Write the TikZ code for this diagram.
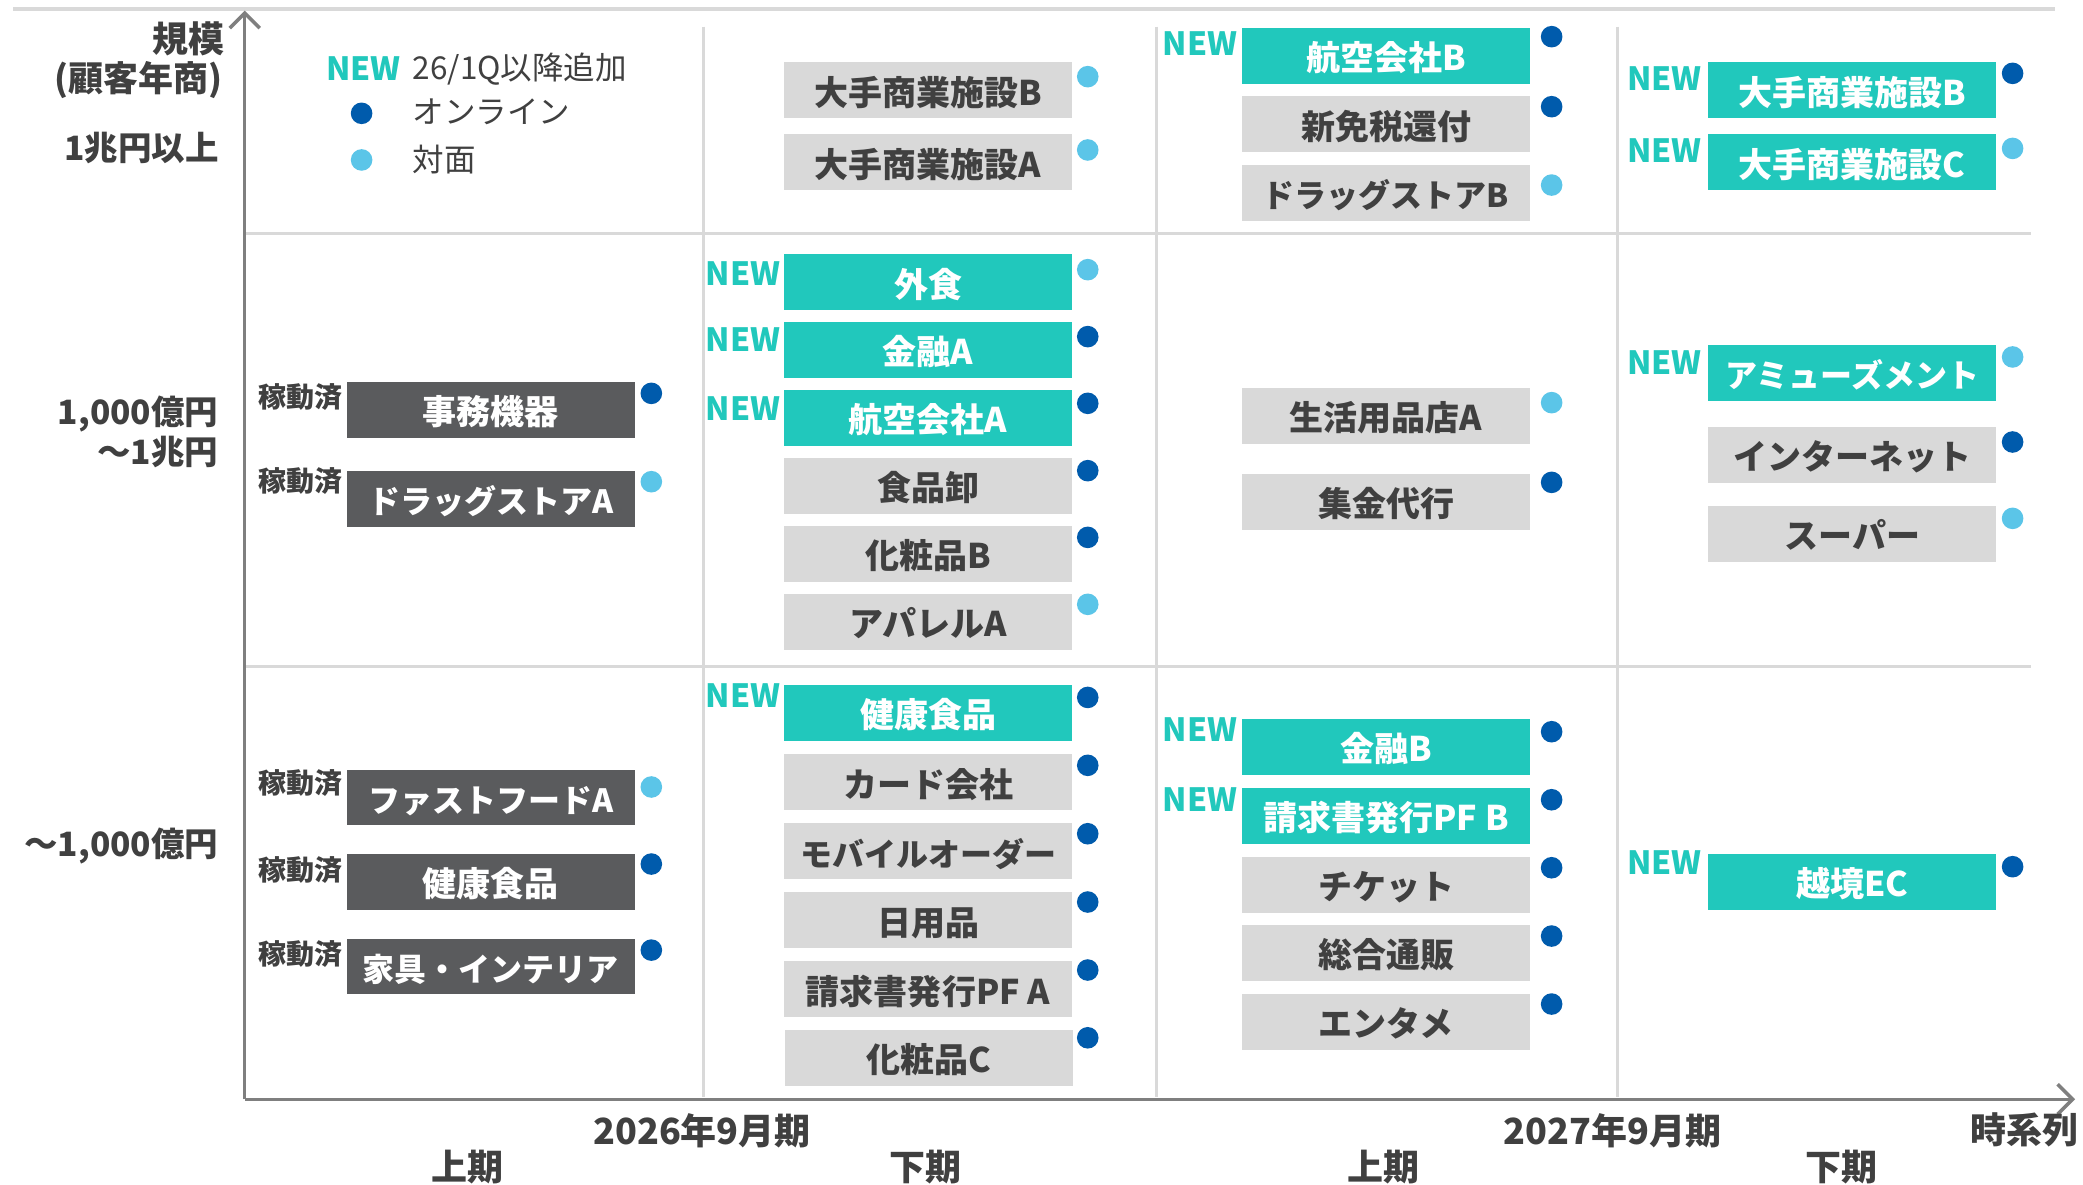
\documentclass[tikz,border=0pt]{standalone}
\usepackage{fontspec}
\setmainfont{Noto Sans CJK JP}
\usetikzlibrary{arrows.meta}
\definecolor{teal1}{HTML}{21C8BC}
\definecolor{boxgray}{HTML}{D9D9D9}
\definecolor{boxdark}{HTML}{5A5B5D}
\definecolor{txtgray}{HTML}{404040}
\definecolor{dotdark}{HTML}{005BAC}
\definecolor{dotlight}{HTML}{5BC5E8}
\definecolor{gridgray}{HTML}{D9D9D9}
\definecolor{axisgray}{HTML}{7F7F7F}
\begin{document}
\begin{tikzpicture}[x=1.3284pt,y=-1.3284pt,
  every node/.style={inner sep=0pt},
  cbox/.style={minimum width=288pt,minimum height=55.6pt,inner sep=0pt,font=\bfseries\fontsize{34}{40}\selectfont,text height=30pt,text depth=0pt},
  narrow/.style={font=\bfseries\fontsize{32}{40}\selectfont},
  gbox/.style={cbox,fill=boxgray,text=txtgray},
  tbox/.style={cbox,fill=teal1,text=white},
  dbox/.style={cbox,fill=boxdark,text=white},
  newlbl/.style={anchor=east,font=\bfseries\fontsize{32}{36}\selectfont,text=teal1,text height=23.5pt,text depth=0pt},
  ondot/.style={circle,fill=dotdark,minimum size=21.6pt,inner sep=0pt},
  offdot/.style={circle,fill=dotlight,minimum size=21.6pt,inner sep=0pt},
  donelbl/.style={font=\bfseries\fontsize{28}{32}\selectfont,text=txtgray,text height=22pt,text depth=2pt},
  ylbl/.style={anchor=east,font=\bfseries\fontsize{33.5}{40}\selectfont,text=txtgray,text height=28pt,text depth=3pt},
  xlbl/.style={font=\bfseries\fontsize{36}{40}\selectfont,text=txtgray,text height=29pt,text depth=3pt},
  leg/.style={anchor=west,font=\fontsize{31.5}{36}\selectfont,text=txtgray,text height=24pt,text depth=3pt},
  gridline/.style={draw=gridgray,line width=3pt},
  axisline/.style={draw=axisgray,line width=3.5pt,-{Straight Barb[length=15pt,width=30pt,line width=3.5pt]}},
]
\useasboundingbox[fill=white] (0,0) rectangle (1568,892);

% frame / grid
\draw[draw=gridgray,line width=4pt] (10,7) -- (1547,7);
\draw[gridline] (184.2,175.4) -- (1529,175.4);
\draw[gridline] (184.2,501.4) -- (1529,501.4);
\draw[gridline] (529.3,20) -- (529.3,826);
\draw[gridline] (870.7,20) -- (870.7,826);
\draw[gridline] (1217.5,20) -- (1217.5,826);

% axes
\coordinate (O) at (184.2,827.5);
\coordinate (ytip) at (184.2,8);
\coordinate (xtip) at (1562,827.5);
\draw[axisline] (O) -- (ytip);
\draw[axisline] (O) -- (xtip);

% y labels
\node[ylbl,font=\bfseries\fontsize{36}{40}\selectfont] (yl1) at (169,30.1) {規模};
\node[ylbl,font=\bfseries\fontsize{35}{40}\selectfont] (yl2) at (168,59.6) {(顧客年商)};
\node[ylbl] (yl3) at (165,111.7) {1兆円以上};
\node[ylbl] (yl4) at (164.5,309.8) {1,000億円};
\node[ylbl] (yl5) at (164.5,340.6) {～1兆円};
\node[ylbl] (yl6) at (164.5,635.4) {～1,000億円};

% x labels
\node[xlbl] (xl1) at (352,879) {上期};
\node[xlbl] (xl2) at (528.5,852) {2026年9月期};
\node[xlbl] (xl3) at (697,879) {下期};
\node[xlbl] (xl4) at (1041.6,879) {上期};
\node[xlbl] (xl5) at (1213.9,852) {2027年9月期};
\node[xlbl] (xl6) at (1386,879) {下期};
\node[xlbl] (xl7) at (1524,851) {時系列};

% legend
\node[newlbl,anchor=west] (lgnew) at (245.3,51.5) {NEW};
\node[leg] (lgnewt) at (310.5,52) {26/1Q以降追加};
\node[ondot] (lgon) at (272.2,85.3) {};
\node[leg] (lgont) at (310.5,85.3) {オンライン};
\node[offdot] (lgoff) at (272.2,120.4) {};
\node[leg] (lgofft) at (310.5,121.5) {対面};

% column 1
\node[dbox] (c1a) at (369.3,308.5) {事務機器};
\node[dbox,narrow] (c1b) at (369.3,375.5) {ドラッグストアA};
\node[dbox,narrow] (c1c) at (369.3,600.3) {ファストフードA};
\node[dbox] (c1d) at (369.3,663.8) {健康食品};
\node[dbox,narrow] (c1e) at (369.3,727.5) {家具・インテリア};
\node[donelbl] (k1a) at (226.3,299.4) {稼動済};
\node[donelbl] (k1b) at (226.3,362.6) {稼動済};
\node[donelbl] (k1c) at (226.3,590) {稼動済};
\node[donelbl] (k1d) at (226.3,655) {稼動済};
\node[donelbl] (k1e) at (226.3,718.4) {稼動済};
\node[ondot] (d1a) at (490.3,296.1) {};
\node[offdot] (d1b) at (490.3,362.6) {};
\node[offdot] (d1c) at (490.3,592.4) {};
\node[ondot] (d1d) at (490.3,650.4) {};
\node[ondot] (d1e) at (490.3,715.2) {};

% column 2
\node[gbox] (c2a) at (698.6,67.8) {大手商業施設B};
\node[gbox] (c2b) at (698.6,122) {大手商業施設A};
\node[tbox] (c2c) at (698.6,212.3) {外食};
\node[tbox] (c2d) at (698.6,263.4) {金融A};
\node[tbox] (c2e) at (698.6,314.5) {航空会社A};
\node[gbox] (c2f) at (698.6,365.8) {食品卸};
\node[gbox] (c2g) at (698.6,417) {化粧品B};
\node[gbox] (c2h) at (698.6,468) {アパレルA};
\node[tbox] (c2i) at (698.6,536.7) {健康食品};
\node[gbox] (c2j) at (698.6,588.7) {カード会社};
\node[gbox,narrow] (c2k) at (698.6,640.7) {モバイルオーダー};
\node[gbox] (c2l) at (698.6,692.6) {日用品};
\node[gbox] (c2m) at (698.6,744.6) {請求書発行PF A};
\node[gbox] (c2n) at (699.5,796.4) {化粧品C};
\node[newlbl] (n2c) at (587.5,205.8) {NEW};
\node[newlbl] (n2d) at (587.5,256) {NEW};
\node[newlbl] (n2e) at (587.5,308) {NEW};
\node[newlbl] (n2i) at (587.5,523.8) {NEW};
\node[offdot] (d2a) at (818.8,57.7) {};
\node[offdot] (d2b) at (818.8,112.9) {};
\node[offdot] (d2c) at (818.8,203) {};
\node[ondot] (d2d) at (818.8,253.4) {};
\node[ondot] (d2e) at (818.8,303.6) {};
\node[ondot] (d2f) at (818.8,354.3) {};
\node[ondot] (d2g) at (818.8,404.5) {};
\node[offdot] (d2h) at (818.8,454.9) {};
\node[ondot] (d2i) at (818.8,525) {};
\node[ondot] (d2j) at (818.8,576.1) {};
\node[ondot] (d2k) at (818.8,627.6) {};
\node[ondot] (d2l) at (818.8,679) {};
\node[ondot] (d2m) at (818.8,730.2) {};
\node[ondot] (d2n) at (818.8,781.2) {};

% column 3
\node[tbox] (c3a) at (1043.4,42) {航空会社B};
\node[gbox] (c3b) at (1043.4,93.5) {新免税還付};
\node[gbox,narrow] (c3c) at (1043.4,145.2) {ドラッグストアB};
\node[gbox] (c3d) at (1043.4,313) {生活用品店A};
\node[gbox] (c3e) at (1043.4,377.8) {集金代行};
\node[tbox] (c3f) at (1043.4,562.3) {金融B};
\node[tbox] (c3g) at (1043.4,614.2) {請求書発行PF B};
\node[gbox] (c3h) at (1043.4,666) {チケット};
\node[gbox] (c3i) at (1043.4,717.3) {総合通販};
\node[gbox] (c3j) at (1043.4,769.3) {エンタメ};
\node[newlbl] (n3a) at (931.5,33.2) {NEW};
\node[newlbl] (n3f) at (931.5,549.5) {NEW};
\node[newlbl] (n3g) at (931.5,601.8) {NEW};
\node[ondot] (d3a) at (1168,27.6) {};
\node[ondot] (d3b) at (1168,80.3) {};
\node[offdot] (d3c) at (1168,139.3) {};
\node[offdot] (d3d) at (1168,303.1) {};
\node[ondot] (d3e) at (1168,363.1) {};
\node[ondot] (d3f) at (1168,550.8) {};
\node[ondot] (d3g) at (1168,602) {};
\node[ondot] (d3h) at (1168,653.2) {};
\node[ondot] (d3i) at (1168,704.6) {};
\node[ondot] (d3j) at (1168,755.8) {};

% column 4
\node[tbox] (c4a) at (1394.2,67.8) {大手商業施設B};
\node[tbox] (c4b) at (1394.2,122) {大手商業施設C};
\node[tbox,narrow] (c4c) at (1394.2,280.7) {アミューズメント};
\node[gbox] (c4d) at (1394.2,342.4) {インターネット};
\node[gbox] (c4e) at (1394.2,401.9) {スーパー};
\node[tbox] (c4f) at (1394.2,663.7) {越境EC};
\node[newlbl] (n4a) at (1281,59) {NEW};
\node[newlbl] (n4b) at (1281,113.6) {NEW};
\node[newlbl] (n4c) at (1281,273) {NEW};
\node[newlbl] (n4f) at (1281,649.5) {NEW};
\node[ondot] (d4a) at (1515,55.2) {};
\node[offdot] (d4b) at (1515,111.7) {};
\node[offdot] (d4c) at (1515,268.7) {};
\node[ondot] (d4d) at (1515,332.7) {};
\node[offdot] (d4e) at (1515,390.2) {};
\node[ondot] (d4f) at (1515,652.4) {};
\end{tikzpicture}
\end{document}
